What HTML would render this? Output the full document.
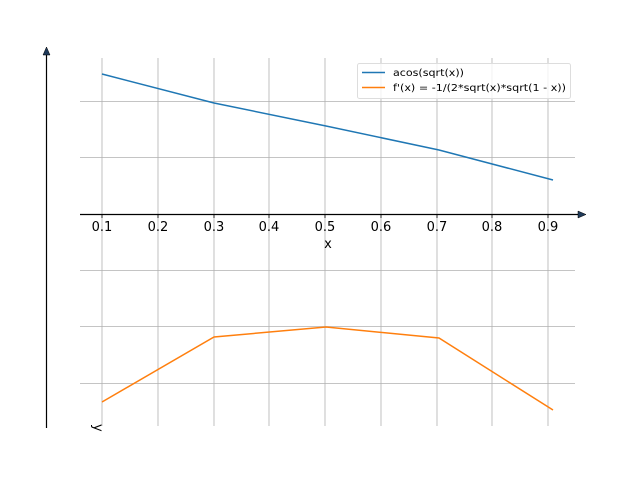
<!DOCTYPE html>
<html><head><style>body{margin:0;background:#fff}svg{display:block}</style></head><body>
<svg width="640" height="480" xmlns="http://www.w3.org/2000/svg" font-family="DejaVu Sans, Liberation Sans, sans-serif">
<g stroke="#b0b0b0" stroke-width="0.8">
<line x1="102" y1="58" x2="102" y2="426"/><line x1="158" y1="58" x2="158" y2="426"/><line x1="214" y1="58" x2="214" y2="426"/><line x1="269" y1="58" x2="269" y2="426"/><line x1="325" y1="58" x2="325" y2="426"/><line x1="381" y1="58" x2="381" y2="426"/><line x1="437" y1="58" x2="437" y2="426"/><line x1="492" y1="58" x2="492" y2="426"/><line x1="548" y1="58" x2="548" y2="426"/>
<line x1="80" y1="101.5" x2="575" y2="101.5"/><line x1="80" y1="157.5" x2="575" y2="157.5"/><line x1="80" y1="270.5" x2="575" y2="270.5"/><line x1="80" y1="326.5" x2="575" y2="326.5"/><line x1="80" y1="383.5" x2="575" y2="383.5"/>
</g>
<line x1="80" y1="214.5" x2="580" y2="214.5" stroke="#000" stroke-width="1.2"/>
<polygon points="586,214.5 578,211 578,218" fill="#1f3a5a" stroke="#000" stroke-width="0.5"/>
<line x1="46.5" y1="53" x2="46.5" y2="428" stroke="#000" stroke-width="1.2"/>
<polygon points="46.5,47 43,55 50,55" fill="#1f3a5a" stroke="#000" stroke-width="0.5"/>
<g stroke="#000" stroke-width="0.8"><line x1="102" y1="214" x2="102" y2="218"/><line x1="158" y1="214" x2="158" y2="218"/><line x1="214" y1="214" x2="214" y2="218"/><line x1="269" y1="214" x2="269" y2="218"/><line x1="325" y1="214" x2="325" y2="218"/><line x1="381" y1="214" x2="381" y2="218"/><line x1="437" y1="214" x2="437" y2="218"/><line x1="492" y1="214" x2="492" y2="218"/><line x1="548" y1="214" x2="548" y2="218"/></g>
<g font-size="13" text-anchor="middle" fill="#000">
<text x="102" y="231">0.1</text><text x="158" y="231">0.2</text><text x="214" y="231">0.3</text><text x="269" y="231">0.4</text><text x="325" y="231">0.5</text><text x="381" y="231">0.6</text><text x="437" y="231">0.7</text><text x="492" y="231">0.8</text><text x="548" y="231">0.9</text>
<text x="328" y="248">x</text>
</g>
<text x="0" y="0" font-size="13" transform="translate(94,424) rotate(90)">y</text>
<polyline points="102,74 214,103 326,126 439,150 553,180" fill="none" stroke="#1f77b4" stroke-width="1.5"/>
<polyline points="102,402 214,337 326,327 439,338 553,410" fill="none" stroke="#ff7f0e" stroke-width="1.5"/>
<rect x="357.5" y="63.5" width="213" height="35" rx="2" fill="#fff" fill-opacity="0.8" stroke="#ddd"/>
<line x1="362" y1="72.5" x2="385" y2="72.5" stroke="#1f77b4" stroke-width="1.5"/>
<line x1="362" y1="87.5" x2="385" y2="87.5" stroke="#ff7f0e" stroke-width="1.5"/>
<text x="393" y="76" font-size="9.5" textLength="71" lengthAdjust="spacingAndGlyphs">acos(sqrt(x))</text>
<text x="393" y="91" font-size="9.5" textLength="173" lengthAdjust="spacingAndGlyphs">f'(x) = -1/(2*sqrt(x)*sqrt(1 - x))</text>
</svg>
</body></html>
